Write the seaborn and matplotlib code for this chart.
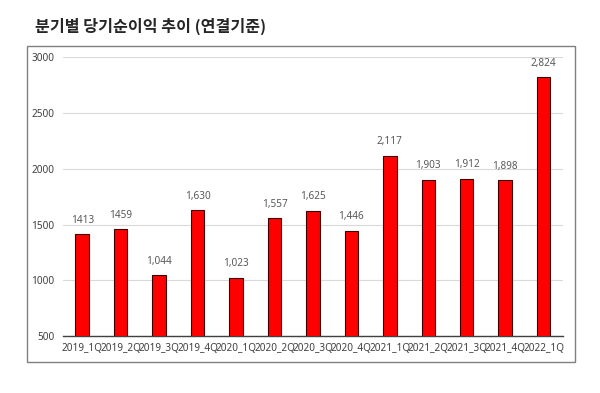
import matplotlib
matplotlib.use("Agg")
import matplotlib.pyplot as plt
import seaborn as sns
import pandas as pd
from matplotlib.patches import Rectangle

# quarterly net income (consolidated)
quarters = ["2019_1Q", "2019_2Q", "2019_3Q", "2019_4Q", "2020_1Q", "2020_2Q", "2020_3Q",
            "2020_4Q", "2021_1Q", "2021_2Q", "2021_3Q", "2021_4Q", "2022_1Q"]
net_income = [1413, 1459, 1044, 1630, 1023, 1557, 1625, 1446, 2117, 1903, 1912, 1898, 2824]
value_labels = ["1413", "1459", "1,044", "1,630", "1,023", "1,557", "1,625", "1,446",
                "2,117", "1,903", "1,912", "1,898", "2,824"]
title = "분기별 당기순이익 추이 (연결기준)"

df = pd.DataFrame({"quarter": quarters, "income": net_income})

sns.set_style("white")
plt.rcParams["font.family"] = ["Noto Sans CJK KR", "DejaVu Sans"]

fig = plt.figure(figsize=(6, 3.93), dpi=100)
ax = fig.add_axes([0.105, 0.145, 0.833, 0.709])

sns.barplot(data=df, x="quarter", y="income", color="#ff0000", saturation=1,
            width=0.35, edgecolor="#3a0000", linewidth=0.8, ax=ax, zorder=3)

ax.set_ylim(500, 3000)
ax.set_yticks(range(500, 3001, 500))
ax.set_xlim(-0.5, len(quarters) - 0.5)
ax.yaxis.grid(True, color="#d9d9d9", linewidth=0.8, zorder=0)
ax.set_axisbelow(True)
for s in ["top", "right", "left"]:
    ax.spines[s].set_visible(False)
ax.spines["bottom"].set_color("#404040")
ax.spines["bottom"].set_linewidth(1.0)
ax.set_xlabel("")
ax.set_ylabel("")
ax.tick_params(axis="both", length=0, labelsize=7.2, labelcolor="#404040")
ax.tick_params(axis="x", pad=5)
ax.tick_params(axis="y", pad=6)
for lbl in ax.get_xticklabels() + ax.get_yticklabels():
    lbl.set_family(["Noto Sans", "DejaVu Sans"])

for i, (v, t) in enumerate(zip(net_income, value_labels)):
    ax.annotate(t, (i, v), xytext=(0, 6), textcoords="offset points", ha="center",
                va="bottom", fontsize=7.2, color="#595959", family=["Noto Sans", "DejaVu Sans"])

# outer chart frame
fig.patches.append(Rectangle((0.045, 0.079), 0.913, 0.804, transform=fig.transFigure,
                             fill=False, edgecolor="#808080", linewidth=1.0))

fig.text(0.058, 0.932, title, fontsize=11.6, fontweight="bold", ha="left", va="center")

fig.savefig("out.png", dpi=100)
